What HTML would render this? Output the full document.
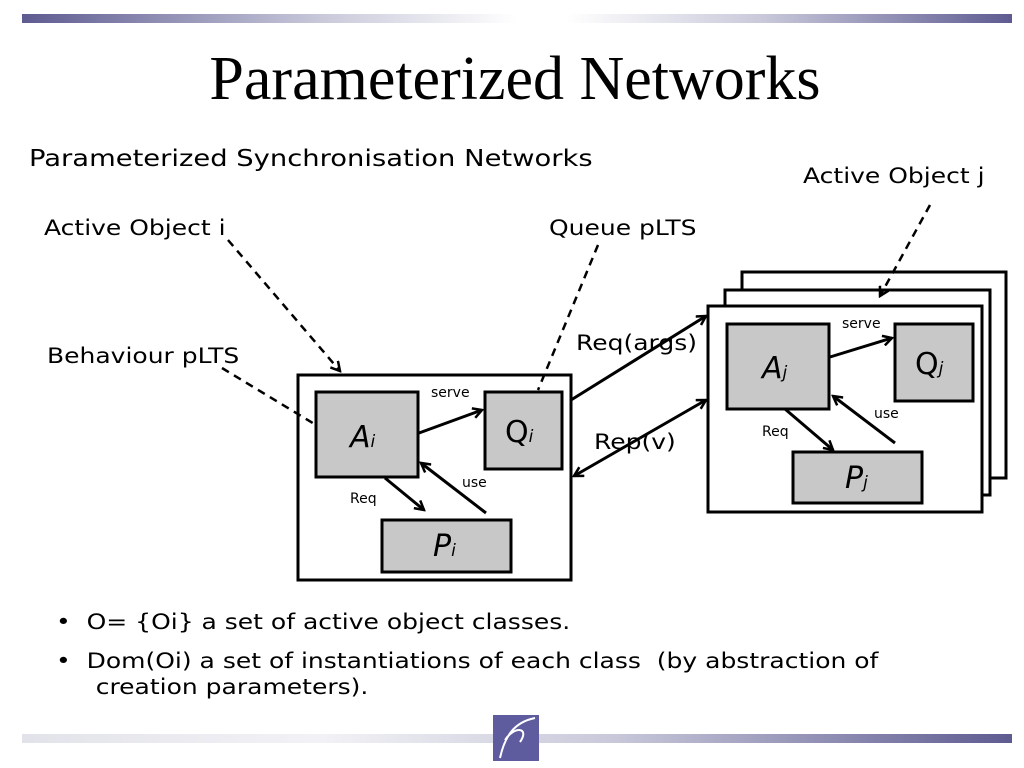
<!DOCTYPE html>
<html><head><meta charset="utf-8"><style>
body{margin:0;width:1024px;height:768px;background:#fff;overflow:hidden;position:relative;font-family:"DejaVu Sans","Liberation Sans",sans-serif}
.bar{position:absolute;height:9px}
.t{position:absolute;white-space:nowrap;color:#000;transform:scaleX(1.19);transform-origin:0 0}
</style></head><body>
<div class="bar" style="left:22px;top:14px;width:990px;background:linear-gradient(90deg,#5e5b91 0%,#c8c8da 30%,#fff 50%,#fff 55%,#c8c8da 75%,#5e5b91 100%)"></div>
<div class="bar" style="left:22px;top:734px;width:990px;background:linear-gradient(90deg,#e2e2ea 0%,#f2f2f6 30%,#c8c8da 60%,#5e5b91 100%)"></div>
<div style="position:absolute;left:0;width:1030px;text-align:center;top:44px;font-family:'Liberation Serif',serif;font-size:62px;white-space:nowrap">Parameterized Networks</div>
<div class="t" style="left:29px;top:146px;font-size:23px">Parameterized Synchronisation Networks</div>
<div class="t" style="left:803px;top:164px;font-size:21px">Active Object j</div>
<div class="t" style="left:44px;top:216px;font-size:21px">Active Object i</div>
<div class="t" style="left:549px;top:216px;font-size:21px">Queue pLTS</div>
<div class="t" style="left:47px;top:344px;font-size:21px">Behaviour pLTS</div>
<div class="t" style="left:576px;top:331px;font-size:21px">Req(args)</div>
<div class="t" style="left:594px;top:430px;font-size:21px">Rep(v)</div>
<svg width="1024" height="768" style="position:absolute;left:0;top:0" font-family="DejaVu Sans,sans-serif">
<defs><marker id="a" markerWidth="12" markerHeight="12" refX="10" refY="6" orient="auto" markerUnits="userSpaceOnUse"><path d="M1,1 L10,6 L1,11" fill="none" stroke="#000" stroke-width="2.5"/></marker></defs>
<g stroke="#000" stroke-width="3" fill="#fff">
<rect x="742" y="272" width="264" height="206"/>
<rect x="725" y="290" width="265" height="205"/>
<rect x="708" y="306" width="274" height="206"/>
<rect x="298" y="375" width="273" height="205"/>
</g>
<g stroke="#000" stroke-width="3" fill="#c8c8c8">
<rect x="316" y="392" width="102" height="85"/>
<rect x="485" y="392" width="77" height="77"/>
<rect x="382" y="520" width="129" height="52"/>
<rect x="727" y="324" width="102" height="85"/>
<rect x="895" y="324" width="78" height="77"/>
<rect x="793" y="452" width="129" height="51"/>
</g>
<g stroke="#000" stroke-width="3" fill="none" marker-end="url(#a)">
<line x1="419" y1="433" x2="482" y2="410"/>
<line x1="486" y1="513" x2="421" y2="463"/>
<line x1="385" y1="478" x2="424" y2="510"/>
<line x1="830" y1="357" x2="892" y2="338"/>
<line x1="895" y1="443" x2="833" y2="396"/>
<line x1="785" y1="409" x2="833" y2="450"/>
<line x1="571" y1="400" x2="706" y2="316"/>
<line x1="640" y1="438" x2="706" y2="400"/>
<line x1="640" y1="438" x2="574" y2="476"/>
</g>
<g stroke="#000" stroke-width="2.5" fill="none" stroke-dasharray="8,6" marker-end="url(#a)">
<line x1="228" y1="240" x2="340" y2="371"/>
<line x1="930" y1="205" x2="880" y2="296"/>
</g>
<g stroke="#000" stroke-width="2.5" fill="none" stroke-dasharray="8,6">
<line x1="222" y1="368" x2="316" y2="425"/>
<line x1="598" y1="245" x2="538" y2="390"/>
</g>
<g font-size="14" fill="#000">
<text x="431" y="397">serve</text><text x="462" y="487">use</text><text x="350" y="503">Req</text>
<text x="842" y="328">serve</text><text x="874" y="418">use</text><text x="762" y="436">Req</text>
</g>
<g font-size="30" font-style="italic" fill="#000">
<text x="350" y="447">A<tspan font-size="17">i</tspan></text>
<text x="433" y="556">P<tspan font-size="17">i</tspan></text>
<text x="762" y="378">A<tspan font-size="17">j</tspan></text>
<text x="845" y="488">P<tspan font-size="17">j</tspan></text>
</g>
<g font-size="30" fill="#000">
<text x="505" y="442">Q<tspan font-size="17" font-style="italic">i</tspan></text>
<text x="915" y="374">Q<tspan font-size="17" font-style="italic">j</tspan></text>
</g>
<rect x="493" y="715" width="46" height="46" fill="#5e5b9e"/>
<path d="M500,758 C505,735 515,722 535,718 M505,740 C515,725 530,728 520,742" stroke="#fff" stroke-width="2" fill="none"/>
</svg>
<div class="t" style="left:56px;top:610px;font-size:21px">•&nbsp; O= {Oi} a set of active object classes.</div>
<div class="t" style="left:56px;top:648px;font-size:21px;line-height:26px">•&nbsp; Dom(Oi) a set of instantiations of each class&nbsp; (by abstraction of<br>&nbsp;&nbsp;&nbsp;&nbsp; creation parameters).</div>
</body></html>
